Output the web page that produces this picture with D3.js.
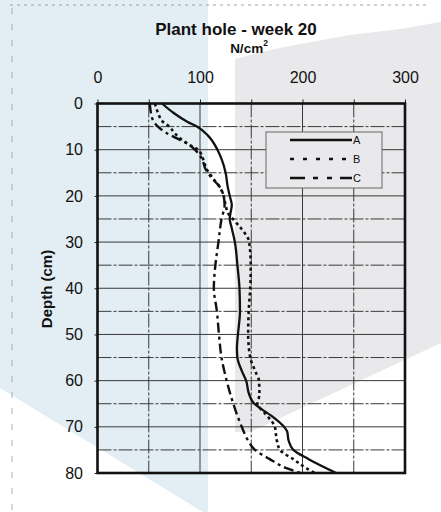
<!DOCTYPE html>
<html>
<head>
<meta charset="utf-8">
<script src="https://cdn.jsdelivr.net/npm/d3@7"></script>
<style>
  html, body { margin: 0; padding: 0; background: #ffffff; }
  svg { display: block; }
  text { font-family: "Liberation Sans", Arial, sans-serif; fill: #111; }
</style>
</head>
<body>
<svg id="chart" width="441" height="512"></svg>
<script>
// ---- data ----
const title = "Plant hole - week 20";
const xTicks = [0, 50, 100, 150, 200, 250, 300];
const xLabels = [0, 100, 200, 300];
const yTicks = [0, 10, 20, 30, 40, 50, 60, 70, 80];
const seriesNames = ["A", "B", "C"];

const depthA = [0, 2, 4, 5, 7, 10, 12, 15, 18, 20, 22, 24, 25, 27, 30, 35, 40, 45, 50, 53, 55, 58, 60, 63, 65, 66, 68, 70, 71, 73, 75, 77, 80];
const valueA = [63, 74, 88, 97, 108, 117, 121, 125, 127, 129, 131, 129.5, 129, 131, 134, 136.5, 138.5, 139, 137, 136, 136.5, 141, 145, 148, 153, 159, 172, 182, 185, 186.5, 191, 206, 233];

const depthB = [0, 2, 4, 5, 6.5, 7.5, 9, 10, 12, 14, 16, 18, 20, 22, 24, 25, 27, 30, 35, 40, 45, 50, 55, 58, 60, 63, 65, 67, 68, 70, 73, 75, 77, 79, 80];
const valueB = [56, 59, 64, 70, 75.6, 80.5, 90, 98, 103, 106, 112, 119, 123, 125, 128, 132, 140, 148, 149.5, 149, 147.5, 147, 149, 154, 157.5, 158, 156, 163, 167, 173, 175, 178, 191, 204, 212];

const depthC = [0, 3.5, 5, 6.2, 7.5, 8.6, 10, 12, 14, 16, 18, 20, 22, 25, 30, 35, 40, 45, 50, 55, 60, 65, 70, 73, 75, 77, 79, 80];
const valueC = [51, 53.8, 59, 66, 77, 87, 95, 102, 105, 111, 119, 123, 124, 121, 118, 115, 113.5, 116.5, 118.5, 121, 126, 132.5, 140.7, 147, 153.7, 168, 185, 198];

// ---- setup ----
const svg = d3.select("#chart");
const W = 441, H = 512;

// scanned background tints
svg.append("rect").attr("width", W).attr("height", H).attr("fill", "#ffffff");
svg.append("polygon")
  .attr("points", [[0,0],[208,0],[208,512],[203,512],[0,388]].map(p => p.join(",")).join(" "))
  .attr("fill", "#e2eef4");
svg.append("polygon")
  .attr("points", [[235,59],[270,50],[300,44],[350,35],[400,29],[441,22],[441,343],[250,432],[235,432]].map(p => p.join(",")).join(" "))
  .attr("fill", "#e9e9eb");
// faint scan marks
svg.append("line").attr("x1", 10).attr("x2", 430).attr("y1", 5).attr("y2", 5)
  .attr("stroke", "#8a8a8a").attr("stroke-width", 0.8).attr("stroke-dasharray", "3,4");
svg.append("line").attr("x1", 12).attr("x2", 12).attr("y1", 8).attr("y2", 512)
  .attr("stroke", "#9a9a9a").attr("stroke-width", 0.8).attr("stroke-dasharray", "6,10");

const x = d3.scaleLinear().domain([0, 300]).range([97.5, 405]);
const y = d3.scaleLinear().domain([0, 80]).range([103.5, 473]);

// grid
const gridX = d3.range(50, 300, 50);
const gridY = d3.range(5, 80, 5);
svg.append("g").selectAll("line").data(gridX).join("line")
  .attr("x1", d => x(d)).attr("x2", d => x(d))
  .attr("y1", y(0)).attr("y2", y(80))
  .attr("stroke", "#3a3a3a").attr("stroke-width", 1)
  .attr("stroke-dasharray", d => d % 100 === 0 ? null : "14,2,3,2");
svg.append("g").selectAll("line").data(gridY).join("line")
  .attr("x1", x(0)).attr("x2", x(300))
  .attr("y1", d => y(d)).attr("y2", d => y(d))
  .attr("stroke", "#3a3a3a").attr("stroke-width", 1)
  .attr("stroke-dasharray", d => d % 10 === 0 ? null : "14,2,3,2");

// axes
const xAxis = d3.axisTop(x).tickValues(xTicks).tickSize(4).tickPadding(16.5)
  .tickFormat(d => xLabels.includes(d) ? d : "");
const gx = svg.append("g").attr("transform", `translate(0,${y(0)})`).call(xAxis);
gx.select(".domain").remove();
gx.selectAll(".tick line").attr("stroke", "#222");
gx.selectAll("text").attr("font-size", 16).attr("fill", "#111")
  .style("font-family", "'Liberation Sans', Arial, sans-serif");

const yAxis = d3.axisLeft(y).tickValues(yTicks).tickSize(3).tickPadding(11.5);
const gy = svg.append("g").attr("transform", `translate(${x(0)},0)`).call(yAxis);
gy.select(".domain").remove();
gy.selectAll(".tick line").attr("stroke", "#222");
gy.selectAll("text").attr("font-size", 16).attr("fill", "#111")
  .style("font-family", "'Liberation Sans', Arial, sans-serif");

// legend
const lg = svg.append("g");
lg.append("rect").attr("x", 266).attr("y", 132).attr("width", 116).attr("height", 56)
  .attr("fill", "#e9e9eb").attr("stroke", "#666").attr("stroke-width", 1);

// series
const styles = {
  A: { dash: null, width: 2.3, legendDash: null },
  B: { dash: "3,3.2", width: 2.6, legendDash: "4,9" },
  C: { dash: "10,4,3,4", width: 2.4, legendDash: "15,8,5,9,5,8" }
};
const series = [
  { name: "A", depth: depthA, value: valueA },
  { name: "B", depth: depthB, value: valueB },
  { name: "C", depth: depthC, value: valueC }
];
const line = d3.line()
  .x(d => x(d[1])).y(d => y(d[0]))
  .curve(d3.curveMonotoneY);

svg.append("g").selectAll("path").data(series).join("path")
  .attr("d", s => line(s.depth.map((d, i) => [d, s.value[i]])))
  .attr("fill", "none").attr("stroke", "#111")
  .attr("stroke-width", s => styles[s.name].width)
  .attr("stroke-dasharray", s => styles[s.name].dash)
  .attr("stroke-linejoin", "round");

const legendY = d3.scalePoint().domain(seriesNames).range([140, 178]);
const li = lg.selectAll("g.item").data(seriesNames).join("g").attr("class", "item");
li.append("line")
  .attr("x1", 290).attr("x2", 352)
  .attr("y1", d => legendY(d)).attr("y2", d => legendY(d))
  .attr("stroke", "#111").attr("stroke-width", 2.4)
  .attr("stroke-dasharray", d => styles[d].legendDash);
li.append("text")
  .attr("x", 353).attr("y", d => legendY(d)).attr("dy", "0.36em")
  .attr("font-size", 11).text(d => d);

// frame
svg.append("rect")
  .attr("x", x(0)).attr("y", y(0))
  .attr("width", x(300) - x(0)).attr("height", y(80) - y(0))
  .attr("fill", "none").attr("stroke", "#111").attr("stroke-width", 2.6);

// titles
svg.append("text").attr("x", 236).attr("y", 35).attr("text-anchor", "middle")
  .attr("font-size", 17).attr("font-weight", "bold").text(title);
const unit = svg.append("text").attr("x", 249).attr("y", 52.5).attr("text-anchor", "middle")
  .attr("font-size", 13.5).attr("font-weight", "bold");
unit.append("tspan").text("N/cm");
unit.append("tspan").attr("font-size", 8.5).attr("dy", "-0.75em").text("2");

svg.append("text")
  .attr("transform", "translate(51.5,289) rotate(-90)")
  .attr("text-anchor", "middle")
  .attr("font-size", 15).attr("font-weight", "bold")
  .text("Depth (cm)");
</script>
</body>
</html>
